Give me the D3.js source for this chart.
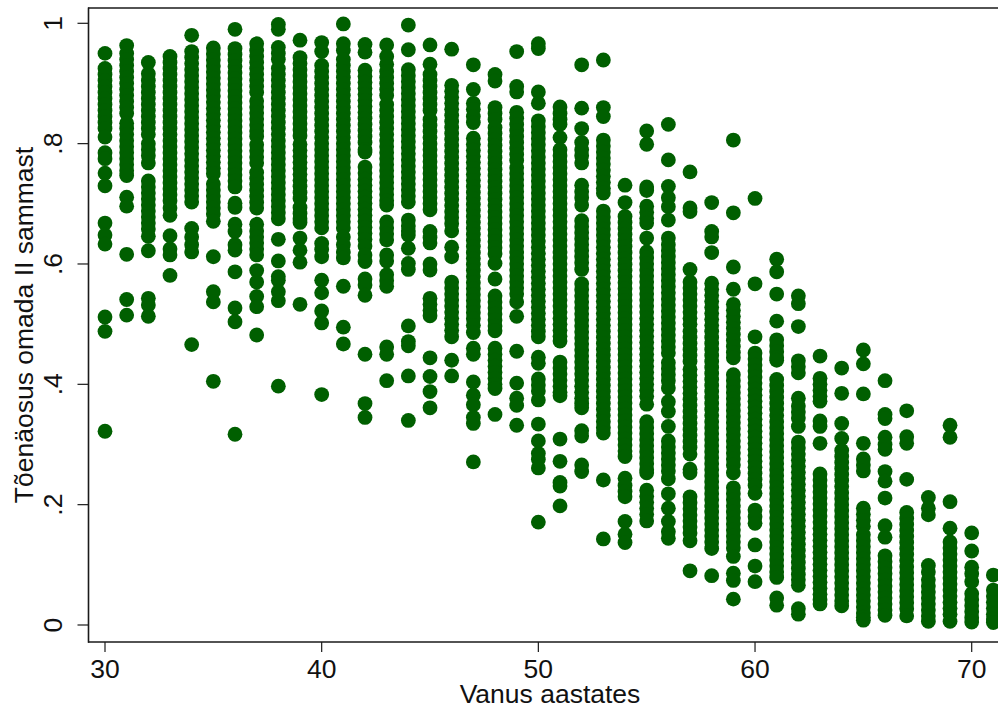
<!DOCTYPE html>
<html><head><meta charset="utf-8">
<style>html,body{margin:0;padding:0;background:#fff;overflow:hidden}</style>
<script src="https://cdn.jsdelivr.net/npm/d3@7"></script></head>
<body><div id="chart"></div>
<script>
const xTitle = "Vanus aastates";
const yTitle = "Tõenäosus omada II sammast";
const xTicks = [30,40,50,60,70];
const yTicks = [0,.2,.4,.6,.8,1];
const yTickLabels = ["0",".2",".4",".6",".8","1"];
const ages = [30,31,32,33,34,35,36,37,38,39,40,41,42,43,44,45,46,47,48,49,50,51,52,53,54,55,56,57,58,59,60,61,62,63,64,65,66,67,68,69,70,71];
const probabilities = [
/*30*/[.95,.925,.915,.905,.895,.885,.875,.865,.855,.845,.835,.825,.811,.785,.775,.751,.73,.668,.648,.633,.512,.488,.322],
/*31*/[.963,.95,.94,.93,.92,.91,.90,.89,.88,.87,.86,.85,.834,.825,.815,.805,.795,.785,.775,.765,.755,.747,.711,.696,.616,.541,.515],
/*32*/[.935,.916,.905,.895,.885,.875,.865,.855,.845,.835,.825,.815,.80,.79,.78,.768,.738,.728,.718,.708,.698,.688,.678,.668,.658,.646,.622,.543,.532,.513],
/*33*/[.945,.935,.925,.915,.905,.895,.885,.875,.865,.855,.845,.835,.825,.815,.805,.795,.785,.775,.765,.755,.745,.735,.725,.715,.705,.693,.681,.647,.625,.615,.581],
/*34*/[.98,.953,.943,.933,.923,.913,.903,.893,.883,.873,.863,.853,.843,.833,.823,.813,.803,.793,.783,.773,.763,.753,.743,.733,.723,.713,.703,.659,.645,.632,.62,.466],
/*35*/[.959,.949,.939,.929,.919,.909,.899,.889,.879,.869,.859,.849,.839,.829,.819,.809,.799,.789,.779,.769,.759,.75,.733,.723,.713,.703,.693,.683,.671,.612,.554,.537,.405],
/*36*/[.99,.958,.948,.938,.928,.918,.908,.898,.888,.878,.868,.858,.848,.838,.828,.818,.808,.798,.788,.778,.768,.758,.748,.738,.728,.701,.694,.666,.654,.632,.623,.587,.527,.504,.317],
/*37*/[.966,.955,.945,.935,.925,.915,.905,.895,.885,.871,.861,.851,.841,.831,.821,.812,.798,.788,.778,.768,.752,.742,.732,.722,.712,.702,.693,.666,.655,.645,.635,.625,.615,.589,.57,.546,.529,.482],
/*38*/[.998,.99,.96,.95,.94,.925,.915,.905,.895,.885,.875,.865,.855,.845,.835,.825,.815,.805,.795,.785,.775,.765,.755,.745,.735,.725,.715,.705,.695,.685,.675,.641,.605,.579,.573,.554,.539,.397],
/*39*/[.972,.943,.933,.923,.913,.903,.893,.883,.873,.863,.853,.843,.833,.823,.813,.799,.789,.779,.769,.759,.749,.739,.729,.719,.709,.694,.684,.675,.669,.643,.623,.603,.533],
/*40*/[.968,.953,.93,.92,.91,.90,.89,.88,.87,.86,.85,.84,.83,.82,.81,.80,.79,.78,.77,.76,.75,.74,.73,.72,.71,.70,.69,.68,.67,.66,.634,.624,.612,.573,.552,.522,.502,.383],
/*41*/[.999,.966,.955,.94,.93,.92,.91,.90,.89,.88,.87,.86,.85,.84,.83,.82,.81,.80,.79,.78,.77,.76,.75,.74,.73,.72,.71,.70,.69,.68,.67,.66,.645,.632,.62,.61,.563,.495,.467],
/*42*/[.965,.952,.922,.912,.902,.892,.882,.872,.862,.852,.842,.832,.822,.812,.802,.79,.786,.761,.751,.741,.731,.721,.711,.701,.691,.681,.671,.661,.651,.641,.63,.615,.604,.575,.565,.548,.45,.368,.345],
/*43*/[.964,.945,.932,.92,.91,.90,.89,.88,.865,.855,.845,.835,.825,.815,.805,.795,.785,.775,.765,.755,.745,.735,.725,.715,.705,.698,.67,.66,.65,.64,.615,.605,.582,.572,.563,.462,.45,.406],
/*44*/[.997,.956,.923,.913,.903,.893,.883,.873,.863,.853,.843,.833,.823,.813,.803,.793,.783,.773,.763,.753,.743,.733,.723,.713,.703,.673,.663,.655,.648,.626,.601,.591,.497,.471,.464,.414,.34],
/*45*/[.964,.932,.915,.905,.895,.885,.875,.865,.855,.84,.83,.82,.81,.80,.79,.78,.77,.76,.75,.74,.73,.72,.71,.70,.69,.654,.644,.635,.60,.59,.543,.533,.523,.514,.444,.413,.388,.361],
/*46*/[.957,.897,.887,.877,.867,.857,.847,.837,.827,.817,.807,.797,.787,.777,.767,.757,.747,.737,.727,.717,.707,.697,.687,.677,.667,.655,.628,.612,.57,.56,.55,.54,.53,.52,.51,.50,.49,.479,.44,.414],
/*47*/[.931,.89,.867,.857,.845,.835,.809,.799,.789,.779,.769,.759,.749,.739,.729,.719,.709,.699,.689,.679,.669,.659,.649,.639,.629,.619,.609,.599,.589,.579,.569,.559,.549,.539,.529,.519,.509,.498,.486,.46,.45,.404,.382,.366,.345,.335,.271],
/*48*/[.915,.904,.86,.85,.84,.827,.817,.807,.797,.787,.777,.767,.757,.747,.737,.727,.717,.707,.697,.687,.677,.667,.657,.647,.637,.627,.617,.601,.575,.547,.537,.527,.517,.507,.497,.489,.46,.45,.44,.43,.42,.41,.40,.393,.35],
/*49*/[.953,.895,.886,.852,.842,.832,.822,.812,.802,.792,.782,.772,.76,.75,.74,.73,.72,.71,.70,.69,.68,.67,.66,.65,.64,.63,.62,.61,.60,.59,.58,.57,.56,.55,.537,.513,.455,.402,.377,.365,.332],
/*50*/[.966,.958,.886,.867,.838,.828,.818,.808,.798,.788,.778,.768,.758,.748,.738,.728,.718,.708,.698,.688,.678,.668,.658,.648,.638,.628,.618,.608,.598,.588,.578,.568,.558,.548,.538,.528,.518,.508,.498,.488,.479,.445,.435,.409,.399,.389,.374,.334,.306,.285,.275,.261,.171],
/*51*/[.861,.85,.84,.832,.81,.79,.78,.77,.76,.75,.74,.73,.72,.71,.70,.69,.68,.67,.66,.65,.64,.63,.62,.61,.60,.59,.58,.57,.56,.55,.54,.53,.52,.51,.50,.49,.48,.472,.437,.427,.417,.407,.397,.387,.381,.309,.272,.237,.231,.198],
/*52*/[.931,.859,.825,.802,.79,.78,.768,.731,.72,.71,.698,.672,.662,.652,.642,.632,.622,.612,.602,.591,.567,.557,.547,.537,.527,.517,.507,.497,.487,.477,.467,.457,.447,.437,.427,.417,.407,.397,.387,.377,.368,.361,.323,.314,.266,.255],
/*53*/[.939,.86,.845,.806,.796,.786,.776,.766,.756,.746,.736,.726,.718,.688,.678,.668,.658,.648,.638,.628,.618,.608,.598,.588,.578,.568,.558,.548,.538,.528,.518,.508,.498,.488,.478,.468,.458,.448,.438,.428,.418,.408,.398,.388,.378,.368,.358,.348,.338,.328,.319,.241,.143],
/*54*/[.731,.702,.679,.669,.659,.649,.639,.629,.619,.609,.599,.589,.579,.569,.559,.549,.539,.529,.519,.509,.499,.489,.479,.469,.459,.449,.439,.429,.419,.409,.399,.389,.379,.369,.359,.349,.339,.329,.319,.309,.299,.289,.28,.244,.232,.222,.213,.172,.151,.137],
/*55*/[.821,.799,.728,.722,.696,.686,.676,.668,.643,.62,.61,.60,.59,.58,.57,.56,.55,.54,.53,.52,.51,.50,.49,.48,.47,.46,.45,.44,.43,.42,.41,.40,.39,.38,.367,.338,.328,.318,.308,.298,.288,.278,.268,.258,.253,.224,.214,.204,.194,.184,.173],
/*56*/[.832,.773,.729,.71,.695,.673,.643,.632,.622,.612,.602,.592,.582,.572,.562,.552,.542,.532,.522,.512,.502,.492,.482,.472,.462,.452,.436,.426,.416,.406,.394,.371,.355,.33,.306,.296,.286,.276,.266,.256,.243,.218,.194,.172,.155,.144],
/*57*/[.753,.693,.687,.591,.57,.56,.55,.54,.53,.52,.51,.50,.488,.478,.468,.458,.448,.438,.425,.415,.405,.395,.385,.375,.365,.355,.345,.335,.325,.315,.305,.295,.284,.259,.253,.213,.203,.193,.183,.173,.163,.153,.14,.09],
/*58*/[.702,.654,.645,.619,.568,.558,.548,.538,.528,.518,.508,.498,.488,.478,.468,.458,.448,.438,.428,.418,.408,.398,.388,.378,.368,.358,.348,.338,.328,.318,.308,.298,.288,.278,.268,.258,.248,.238,.228,.218,.208,.198,.188,.178,.168,.158,.148,.138,.127,.082],
/*59*/[.806,.685,.595,.558,.533,.523,.513,.503,.493,.483,.473,.463,.453,.444,.416,.406,.396,.386,.376,.366,.356,.346,.336,.326,.316,.306,.296,.286,.276,.266,.253,.228,.218,.208,.198,.188,.178,.168,.158,.148,.138,.128,.114,.086,.074,.043],
/*60*/[.709,.567,.479,.452,.442,.432,.422,.412,.402,.392,.382,.372,.362,.352,.342,.332,.322,.312,.302,.292,.282,.272,.262,.252,.242,.232,.219,.191,.18,.169,.133,.098,.072],
/*61*/[.608,.587,.55,.505,.474,.464,.454,.444,.44,.408,.398,.388,.378,.368,.358,.348,.338,.328,.318,.308,.298,.288,.278,.268,.258,.248,.238,.228,.218,.208,.198,.188,.178,.168,.158,.148,.138,.128,.118,.108,.098,.088,.079,.045,.033],
/*62*/[.547,.534,.496,.439,.429,.419,.377,.364,.354,.344,.33,.304,.294,.284,.274,.264,.254,.244,.234,.224,.214,.204,.194,.184,.174,.164,.154,.144,.134,.124,.114,.104,.094,.084,.075,.066,.027,.018],
/*63*/[.447,.41,.40,.39,.38,.372,.339,.33,.302,.251,.241,.231,.221,.211,.201,.191,.181,.171,.161,.151,.141,.131,.121,.111,.101,.091,.081,.071,.061,.051,.042,.035],
/*64*/[.427,.385,.335,.31,.29,.28,.27,.26,.25,.24,.23,.22,.21,.20,.19,.18,.17,.16,.15,.14,.13,.12,.11,.10,.09,.08,.07,.06,.05,.04,.032],
/*65*/[.457,.434,.384,.302,.276,.266,.256,.194,.184,.174,.164,.15,.14,.13,.12,.11,.10,.09,.08,.07,.06,.05,.04,.03,.02,.013,.008],
/*66*/[.406,.35,.343,.312,.30,.292,.255,.239,.211,.165,.146,.115,.105,.095,.085,.075,.065,.055,.045,.035,.025,.016],
/*67*/[.356,.313,.302,.242,.187,.177,.167,.157,.147,.137,.127,.117,.107,.097,.087,.077,.067,.057,.047,.037,.027,.015],
/*68*/[.212,.194,.183,.099,.088,.075,.065,.055,.045,.035,.025,.015,.006],
/*69*/[.332,.312,.205,.161,.138,.128,.118,.108,.098,.088,.078,.068,.058,.048,.038,.028,.018,.006],
/*70*/[.153,.123,.096,.085,.072,.052,.042,.032,.022,.012,.005],
/*71*/[.083,.058,.048,.038,.028,.018,.01,.004]
];

const W = 998, H = 707;
const green = "#005f00", ink = "#1a1a1a", fs = 26.5;
const x = d3.scaleLinear().domain([30,70]).range([105,971.7]);
const y = d3.scaleLinear().domain([0,1]).range([625,23.3]);

const svg = d3.select("#chart").append("svg").attr("width",W).attr("height",H)
  .style("display","block").style("font-family","'Liberation Sans',Arial,sans-serif");

svg.append("rect").attr("width",W).attr("height",H).attr("fill","#fff");

const points = ages.flatMap((a,i)=>probabilities[i].map(p=>({a,p})));
svg.append("g").attr("fill",green).selectAll("circle").data(points).join("circle")
  .attr("cx",d=>x(d.a)).attr("cy",d=>y(d.p)).attr("r",7.4);

svg.append("line").attr("x1",88).attr("x2",W).attr("y1",8).attr("y2",8)
  .attr("stroke",ink).attr("stroke-width",1.6);

const ax = d3.axisBottom(x).tickValues(xTicks).tickFormat(d3.format("d")).tickSize(10).offset(0);
const gx = svg.append("g").attr("transform","translate(0,642)").call(ax);
gx.select(".domain").remove();
gx.selectAll("line").attr("stroke",ink).attr("stroke-width",1.2);
gx.selectAll("text").attr("fill","#111").attr("font-size",fs).attr("y",17).attr("dy","0.71em").attr("font-family","'Liberation Sans',Arial,sans-serif");

const ay = d3.axisLeft(y).tickValues(yTicks).tickFormat((d,i)=>yTickLabels[i]).tickSize(11).offset(0);
const gy = svg.append("g").attr("transform","translate(88.5,0)").call(ay);
gy.select(".domain").remove();
gy.selectAll("line").attr("stroke",ink).attr("stroke-width",1.2);
gy.selectAll("text").attr("fill","#111").attr("font-size",fs).attr("font-family","'Liberation Sans',Arial,sans-serif")
  .attr("x",null).attr("dy",null).attr("text-anchor","middle")
  .attr("transform","translate(-26.5,0) rotate(-90)");

svg.append("line").attr("x1",88.5).attr("x2",88.5).attr("y1",7.5).attr("y2",642.8).attr("stroke",ink).attr("stroke-width",1.6);
svg.append("line").attr("x1",88).attr("x2",W).attr("y1",642).attr("y2",642).attr("stroke",ink).attr("stroke-width",1.6);

svg.append("text").attr("x",550).attr("y",703).attr("text-anchor","middle").attr("font-size",fs).attr("fill","#111").text(xTitle);
svg.append("text").attr("transform","translate(33,325) rotate(-90)").attr("text-anchor","middle").attr("font-size",fs).attr("fill","#111").text(yTitle);
</script></body></html>
